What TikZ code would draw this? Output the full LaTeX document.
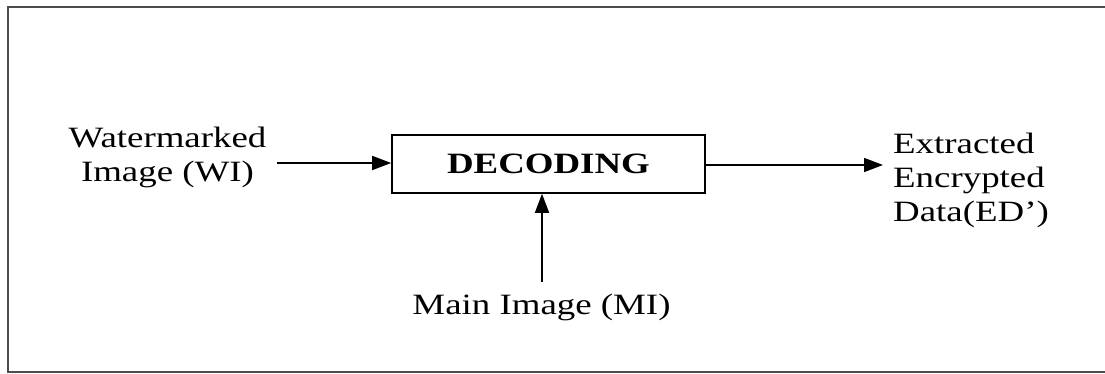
\documentclass[tikz,border=0pt]{standalone}
\usepackage{fontspec}
\setmainfont{Liberation Serif}
\usetikzlibrary{arrows.meta}
% text in this figure is set slightly wide
\newcommand\widetext[1]{\scalebox{1.25}[1]{#1}}
\tikzset{
  flow/.style={line width=1.6pt, -{Triangle[length=19pt,width=14pt]}},
  label/.style={inner sep=0pt, font=\fontsize{29.5}{34}\selectfont},
  procbox/.style={draw, line width=1.6pt, minimum width=313pt, minimum height=58pt,
    inner sep=0pt, font=\fontsize{29.5}{34}\selectfont\bfseries},
  frame/.style={draw=black!70, line width=2pt}
}
\begin{document}
\begin{tikzpicture}[x=1pt,y=1pt]
  \useasboundingbox (0,0) rectangle (1105,374);
  \fill[white] (0,0) rectangle (1105,374);
  % outer frame (open on the right)
  \draw[frame] (1110,367) -| (8,2) -- (1110,2);

  % decoding block
  \node[procbox] (dec) at (548.5,210) {\widetext{DECODING}};

  % input and output labels
  \node[label, align=center, anchor=north] (wi) at (167.5,247) {\widetext{Watermarked}\\\widetext{Image (WI)}};
  \node[label, anchor=base] (mi) at (541.5,59) {\widetext{Main Image (MI)}};
  \node[label, align=left, anchor=north west] (ed) at (893,241) {\widetext{Extracted}\\\widetext{Encrypted}\\\widetext{Data(ED')}};

  % connector end points
  \coordinate (wiStart) at (277,211);
  \coordinate (miStart) at (542,92);
  \coordinate (edTip) at (883,209);

  \draw[flow] (wiStart) -- (wiStart -| dec.west);
  \draw[flow] (miStart) -- (miStart |- dec.south);
  \draw[flow] (dec.east |- edTip) -- (edTip);
\end{tikzpicture}
\end{document}
